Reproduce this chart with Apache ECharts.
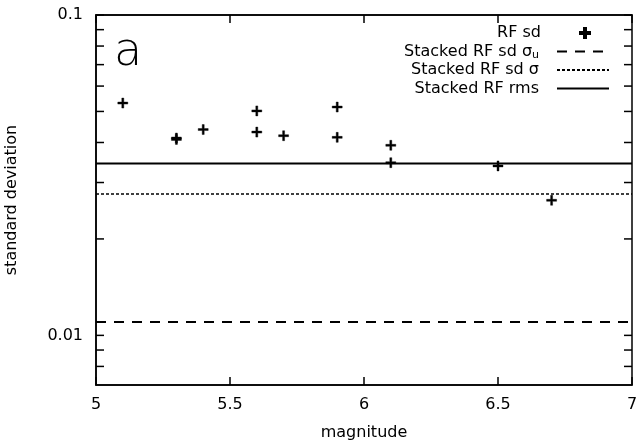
<!DOCTYPE html>
<html>
<head>
<meta charset="utf-8">
<script src="https://cdn.jsdelivr.net/npm/echarts@6/dist/echarts.min.js"></script>
<style>
  html, body { margin: 0; padding: 0; background: #fff; }
  #chart { width: 640px; height: 445px; }
</style>
</head>
<body>
<div id="chart"></div>
<script>
// data
const magnitude = [5.1, 5.3, 5.3, 5.4, 5.6, 5.6, 5.7, 5.9, 5.9, 6.1, 6.1, 6.5, 6.7]
const rfSd = [0.0531, 0.0413, 0.0409, 0.0439, 0.0502, 0.0431, 0.0420, 0.0516, 0.0415, 0.0392, 0.0346, 0.0338, 0.0264]
const stackedSigmaU = 0.0110
const stackedSigma = 0.0276
const stackedRms = 0.0344
const xRange = [5, 7]
const yMajorTicks = [0.01, 0.1]
const yMinorTicks = [0.008, 0.009, 0.02, 0.03, 0.04, 0.05, 0.06, 0.07, 0.08, 0.09]

const names = ['RF sd', 'Stacked RF sd σu', 'Stacked RF sd σ', 'Stacked RF rms']
const FONT = 'DejaVu Sans'
const PLUS = 'path://M4,0h2v4h4v2h-4v4h-2v-4h-4v-2h4z'

const chart = echarts.init(document.getElementById('chart'))

const flat = v => xRange.map(x => [x, v])

// one legend per row so the icons line up on the right
const legends = names.map((n, i) => ({
  data: [i === 0 ? { name: n, icon: PLUS } : n],
  right: i === 0 ? 44 : 25,
  top: 20 + i * 18.5,
  orient: 'vertical',
  align: 'right',
  itemWidth: 52,
  itemHeight: i === 0 ? 10 : 14,
  itemStyle: i === 0 ? {} : { opacity: 0 },
  selectedMode: false,
  formatter: name => name === 'Stacked RF sd σu' ? 'Stacked RF sd σ{sub|u}' : name,
  textStyle: {
    fontFamily: FONT,
    fontSize: 16,
    color: '#000',
    padding: [0, 13, 0, 0],
    rich: {
      sub: { fontFamily: FONT, fontSize: 11, padding: [7, 0, 0, 0] }
    }
  }
}))

const option = {
  animation: false,
  grid: {
    left: 96, right: 8, top: 15, bottom: 60,
    outerBoundsMode: 'none', containLabel: false,
    show: true, borderColor: '#000', borderWidth: 1.5
  },
  legend: legends,
  graphic: [{
    type: 'text',
    left: 114,
    top: 30,
    style: { text: 'a', fontFamily: FONT, fontWeight: 200, fontSize: 46, fill: '#000' }
  }],
  xAxis: [
    {
      type: 'value', min: 5, max: 7, interval: 0.5,
      name: 'magnitude', nameLocation: 'middle', nameGap: 40,
      nameTextStyle: { fontFamily: FONT, fontSize: 16, color: '#000' },
      axisLine: { lineStyle: { color: '#000', width: 1.5 } },
      axisTick: { inside: true, length: 8, lineStyle: { color: '#000', width: 1.5 } },
      axisLabel: { fontFamily: FONT, fontSize: 16, color: '#000', margin: 12 },
      splitLine: { show: false }
    },
    {
      type: 'value', min: 5, max: 7, interval: 0.5, position: 'top',
      axisLine: { lineStyle: { color: '#000', width: 1.5 } },
      axisTick: { inside: true, length: 8, lineStyle: { color: '#000', width: 1.5 } },
      axisLabel: { show: false },
      splitLine: { show: false }
    }
  ],
  yAxis: {
    type: 'log', logBase: 10, min: 0.007, max: 0.1,
    name: 'standard deviation', nameLocation: 'middle', nameGap: 76,
    nameTextStyle: { fontFamily: FONT, fontSize: 16, color: '#000' },
    axisLine: { lineStyle: { color: '#000', width: 1.5 } },
    axisTick: { show: false },
    axisLabel: {
      fontFamily: FONT, fontSize: 16, color: '#000', margin: 13,
      formatter: v => yMajorTicks.some(t => Math.abs(Math.log10(v) - Math.log10(t)) < 1e-6) ? String(+v.toPrecision(3)) : ''
    },
    splitLine: { show: false }
  },
  series: [
    {
      name: 'RF sd',
      type: 'scatter',
      data: magnitude.map((m, i) => [m, rfSd[i]]),
      symbol: PLUS,
      symbolSize: 10,
      itemStyle: { color: '#000', borderColor: '#000', borderWidth: 0.4, opacity: 1 }
    },
    {
      name: 'Stacked RF sd σu',
      type: 'line',
      data: flat(stackedSigmaU),
      showSymbol: false, symbol: 'none',
      lineStyle: { color: '#000', width: 2, type: [10, 8] },
      itemStyle: { color: '#000' }
    },
    {
      name: 'Stacked RF sd σ',
      type: 'line',
      data: flat(stackedSigma),
      showSymbol: false, symbol: 'none',
      lineStyle: { color: '#000', width: 1.5, type: [3, 2] },
      itemStyle: { color: '#000' }
    },
    {
      name: 'Stacked RF rms',
      type: 'line',
      data: flat(stackedRms),
      showSymbol: false, symbol: 'none',
      lineStyle: { color: '#000', width: 2 },
      itemStyle: { color: '#000' }
    },
    {
      // y ticks on the left and right frame (log minor ticks)
      type: 'custom',
      silent: true,
      data: yMajorTicks.concat(yMinorTicks).map(v => [v]),
      encode: { y: 0 },
      renderItem: (params, api) => {
        const v = api.value(0)
        const l = api.coord([xRange[0], v])
        const r = api.coord([xRange[1], v])
        const len = 8
        const st = { stroke: '#000', lineWidth: 1.5 }
        return {
          type: 'group',
          children: [
            { type: 'line', shape: { x1: l[0], y1: l[1], x2: l[0] + len, y2: l[1] }, style: st },
            { type: 'line', shape: { x1: r[0], y1: r[1], x2: r[0] - len, y2: r[1] }, style: st }
          ]
        }
      }
    }
  ]
}

chart.setOption(option)
</script>
</body>
</html>
